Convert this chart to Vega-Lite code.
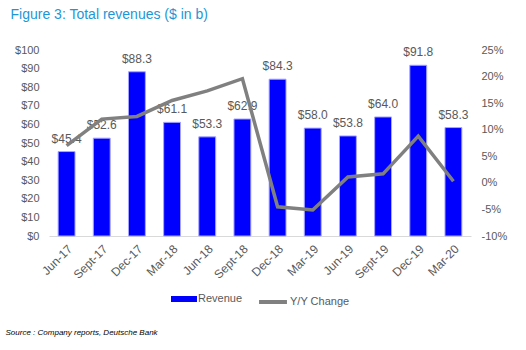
{
  "$schema": "https://vega.github.io/schema/vega-lite/v6.json",
  "padding": {"left": 5, "top": 8, "right": 5, "bottom": 5},
  "background": "white",
  "title": {
    "text": "Source : Company reports, Deutsche Bank",
    "orient": "bottom",
    "anchor": "start",
    "fontSize": 8,
    "fontStyle": "italic",
    "fontWeight": "normal",
    "color": "#000000",
    "offset": 19,
    "dx": -5
  },
  "config": {
    "font": "Liberation Sans",
    "view": {"stroke": null},
    "axis": {
      "labelColor": "#595959",
      "labelFontSize": 11,
      "ticks": false,
      "grid": false,
      "title": null
    },
    "legend": {
      "labelColor": "#595959",
      "labelFontSize": 11,
      "layout": {"bottom": {"anchor": "middle", "direction": "horizontal", "margin": 14}}
    }
  },
  "vconcat": [
    {
      "title": {
        "text": "Figure 3: Total revenues ($ in b)",
        "anchor": "start",
        "fontSize": 14,
        "fontWeight": "normal",
        "color": "#1E96D6",
        "offset": 22,
        "dx": -4
      },
      "width": 422,
      "height": 186,
      "data": {
        "values": [
          {"period": "Jun-17", "revenue": 45.4, "yoy": 7.0, "series": "Revenue", "series2": "Y/Y Change"},
          {"period": "Sept-17", "revenue": 52.6, "yoy": 12.0, "series": "Revenue", "series2": "Y/Y Change"},
          {"period": "Dec-17", "revenue": 88.3, "yoy": 12.5, "series": "Revenue", "series2": "Y/Y Change"},
          {"period": "Mar-18", "revenue": 61.1, "yoy": 15.5, "series": "Revenue", "series2": "Y/Y Change"},
          {"period": "Jun-18", "revenue": 53.3, "yoy": 17.3, "series": "Revenue", "series2": "Y/Y Change"},
          {"period": "Sept-18", "revenue": 62.9, "yoy": 19.6, "series": "Revenue", "series2": "Y/Y Change"},
          {"period": "Dec-18", "revenue": 84.3, "yoy": -4.5, "series": "Revenue", "series2": "Y/Y Change"},
          {"period": "Mar-19", "revenue": 58.0, "yoy": -5.1, "series": "Revenue", "series2": "Y/Y Change"},
          {"period": "Jun-19", "revenue": 53.8, "yoy": 1.1, "series": "Revenue", "series2": "Y/Y Change"},
          {"period": "Sept-19", "revenue": 64.0, "yoy": 1.7, "series": "Revenue", "series2": "Y/Y Change"},
          {"period": "Dec-19", "revenue": 91.8, "yoy": 8.8, "series": "Revenue", "series2": "Y/Y Change"},
          {"period": "Mar-20", "revenue": 58.3, "yoy": 0.3, "series": "Revenue", "series2": "Y/Y Change"}
        ]
      },
      "encoding": {
        "x": {
          "field": "period",
          "type": "nominal",
          "sort": null,
          "scale": {"paddingInner": 0.52},
          "axis": {"labelAngle": -45, "domainColor": "#d9d9d9", "labelPadding": 7, "labelFontSize": 12}
        }
      },
      "layer": [
        {
          "encoding": {
            "y": {
              "field": "revenue",
              "type": "quantitative",
              "scale": {"domain": [0, 100]},
              "axis": {"values": [0,10,20,30,40,50,60,70,80,90,100], "labelOverlap": false, "format": "$.0f", "domain": false, "labelPadding": 10}
            }
          },
          "layer": [
            {
              "mark": {"type": "bar", "stroke": "#a6a6ff", "strokeWidth": 1},
              "encoding": {
                "color": {
                  "field": "series",
                  "type": "nominal",
                  "scale": {"range": ["#0000FF"]},
                  "legend": {"title": null, "orient": "bottom", "offset": 5, "symbolType": "M-1,-0.23H1V0.23H-1Z", "symbolSize": 676, "symbolStrokeWidth": 0, "labelOffset": 1}
                }
              }
            },
            {
              "mark": {"type": "text", "baseline": "bottom", "dy": -6, "fontSize": 12, "color": "#595959"},
              "encoding": {
                "text": {"field": "revenue", "type": "quantitative", "format": "$.1f"}
              }
            }
          ]
        },
        {
          "mark": {"type": "line", "strokeWidth": 3.5},
          "encoding": {
            "y": {
              "field": "yoy",
              "type": "quantitative",
              "scale": {"domain": [-10, 25]},
              "axis": {"orient": "right", "values": [-10,-5,0,5,10,15,20,25], "labelOverlap": false, "labelExpr": "datum.value + '%'", "domain": false, "labelPadding": 10}
            },
            "stroke": {
              "field": "series2",
              "type": "nominal",
              "scale": {"range": ["#808080"]},
              "legend": {"title": null, "orient": "bottom", "offset": 5, "symbolType": "stroke", "symbolSize": 780, "symbolStrokeWidth": 4, "labelOffset": 1}
            }
          }
        }
      ],
      "resolve": {"scale": {"y": "independent"}}
    }
  ]
}
